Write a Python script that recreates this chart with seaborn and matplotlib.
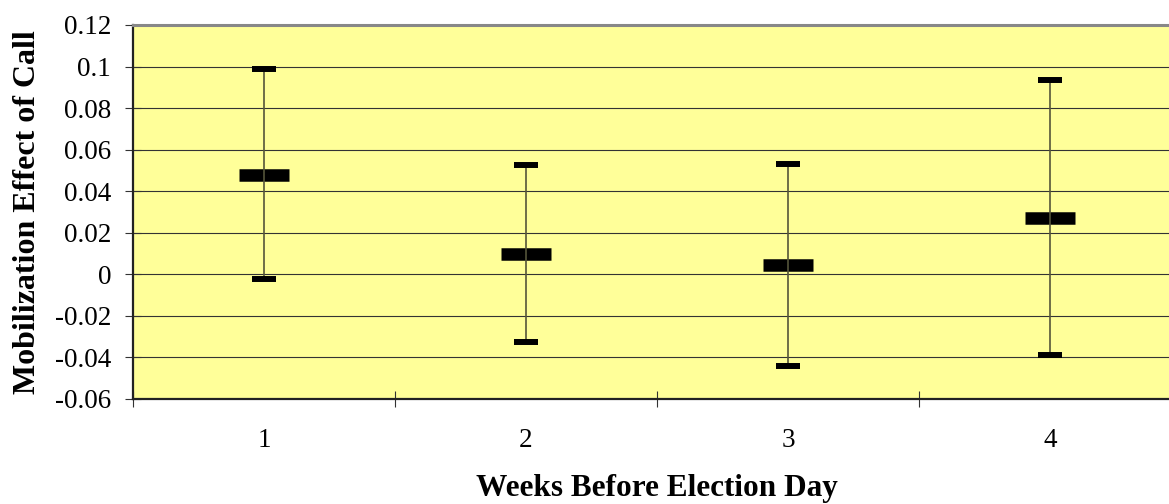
import numpy as np
import pandas as pd
import seaborn as sns
import matplotlib.pyplot as plt

# valores
weeks = [1, 2, 3, 4]
effect = [0.048, 0.010, 0.0045, 0.027]
lower = [-0.0024, -0.0326, -0.0441, -0.039]
upper = [0.099, 0.0525, 0.053, 0.0935]

# formato longo: mediana de (baixo, efeito, alto) = efeito, pi 100 = baixo..alto
df = pd.DataFrame({
    'week': np.repeat(weeks, 3),
    'value': np.ravel(np.column_stack([lower, effect, upper])),
})
caps = pd.DataFrame({'week': weeks * 2, 'value': lower + upper})

sns.set_style('white', {'text.color': 'black', 'axes.labelcolor': 'black',
                        'xtick.color': 'black', 'ytick.color': 'black'})
plt.rcParams['font.family'] = ['Liberation Serif', 'DejaVu Serif']

fig = plt.figure(figsize=(11.69, 5.04), dpi=100)
ax = fig.add_axes([133 / 1169, 105 / 504, 1048 / 1169, 374 / 504])
ax.set_facecolor('#FFFF99')

sns.pointplot(data=df, x='week', y='value', estimator='median', errorbar=('pi', 100),
              native_scale=True, linestyle='none', marker='_', markersize=36,
              markeredgewidth=9, color='black',
              err_kws={'color': '#55553a', 'linewidth': 1.2}, ax=ax, zorder=3)
sns.scatterplot(data=caps, x='week', y='value', marker='_', s=17 ** 2,
                linewidth=4.3, color='black', ax=ax, zorder=4)

ax.set_xlim(0.5, 4.5)
ax.set_ylim(-0.06, 0.12)
ax.set_yticks(np.arange(-0.06, 0.121, 0.02))
ax.set_yticklabels(['-0.06', '-0.04', '-0.02', '0', '0.02', '0.04', '0.06', '0.08', '0.1', '0.12'])
ax.set_xticks(weeks)
ax.set_xticklabels([str(w) for w in weeks])
ax.set_xticks([0.5, 1.5, 2.5, 3.5], minor=True)

ax.grid(axis='y', color='#333333', linewidth=0.8)
ax.set_axisbelow(True)

ax.tick_params(axis='y', which='major', direction='inout', length=11.5, width=0.8,
               pad=10, labelsize=19.5, left=True, color='#333333', labelcolor='black')
ax.tick_params(axis='x', which='major', length=0, pad=21, labelsize=19.5, labelcolor='black')
ax.tick_params(axis='x', which='minor', direction='inout', length=12, width=0.8,
               bottom=True, color='#333333')

for s in ['left', 'bottom']:
    ax.spines[s].set_color('#222222')
    ax.spines[s].set_linewidth(1.6)
ax.spines['top'].set_color('#888888')
ax.spines['top'].set_linewidth(2.2)
ax.spines['right'].set_visible(False)

ax.set_xlabel('Weeks Before Election Day', fontsize=22.5, fontweight='bold', labelpad=15,
              color='black')
ax.set_ylabel('Mobilization Effect of Call', fontsize=23, fontweight='bold', labelpad=9,
              color='black')

fig.savefig('out.png', dpi=100)
